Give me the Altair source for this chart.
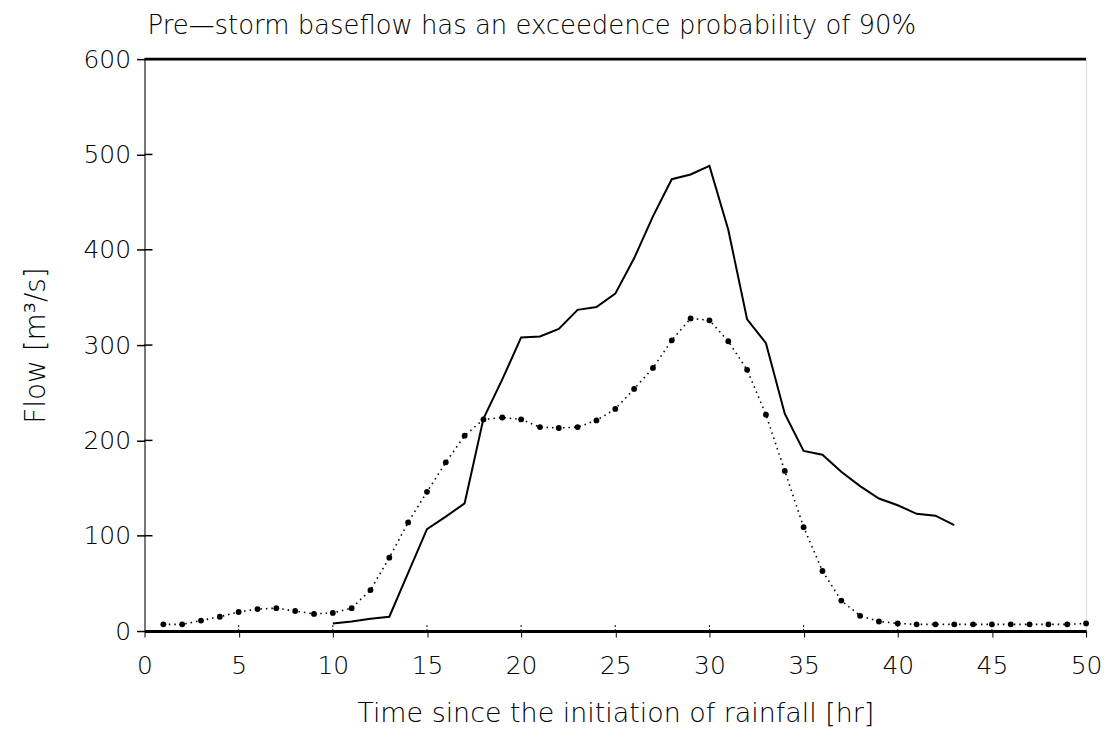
import altair as alt
import pandas as pd

# Solid line: hourly flow (t = 10 .. 43)
solid_t = list(range(10, 44))
solid_v = [8, 10, 13, 15, 61, 107, 120, 134, 223, 264, 308, 309, 317, 337, 340,
           354, 391, 435, 474, 479, 488, 421, 327, 302, 228, 189, 185, 167, 152,
           139, 132, 123, 121, 111]

# Dotted line with dots: hourly flow (t = 1 .. 50)
dot_t = list(range(1, 51))
dot_v = [7, 7, 11, 15, 20, 23, 24, 21, 18, 19,
         24, 43, 77, 114, 146, 177, 205, 222, 224, 222,
         214, 213, 214, 221, 233, 254, 276, 305, 328, 326,
         304, 274, 227, 168, 109, 63, 32, 16, 10, 8,
         7, 7, 7, 7, 7, 7, 7, 7, 7, 8]

x_ticks = [0, 5, 10, 15, 20, 25, 30, 35, 40, 45, 50]
y_ticks = [0, 100, 200, 300, 400, 500, 600]
x_inner = [5, 10, 15, 20, 25, 30, 35, 40, 45]
y_inner = [100, 200, 300, 400, 500]

title_text = "Pre\u2014storm baseflow has an exceedence probability of 90%"
x_title = "Time since the initiation of rainfall [hr]"
y_title = "Flow [m\u00b3/s]"

FONT = "DejaVu Sans"
FW = 200
W, H = 945, 574

solid_df = pd.DataFrame({"t": solid_t, "flow": solid_v})
dot_df = pd.DataFrame({"t": dot_t, "flow": dot_v})
yin_df = pd.DataFrame({"v": y_inner})
xin_df = pd.DataFrame({"v": x_inner})

xs = alt.Scale(domain=[0, 50], nice=False, zero=False)
ys = alt.Scale(domain=[0, 600], nice=False)

x_axis = alt.Axis(values=x_ticks, title=x_title, grid=False, tickSize=6,
                  tickColor="black", tickWidth=1, domainColor="black",
                  domainWidth=3, labelFontSize=25, labelPadding=17,
                  labelColor="black", titleFontSize=27, titlePadding=22,
                  titleColor="black", titleFontWeight=FW, labelFontWeight=FW,
                  labelFont=FONT, titleFont=FONT, labelFlush=False)
y_axis = alt.Axis(values=y_ticks, title=y_title, grid=False, tickSize=8,
                  tickColor="black", tickWidth=1.5, domainColor="black",
                  domainWidth=1, labelFontSize=25, labelPadding=6,
                  labelColor="black", titleFontSize=28, titlePadding=33,
                  titleColor="black", titleFontWeight=FW, labelFontWeight=FW,
                  labelFont=FONT, titleFont=FONT, labelFlush=False)

solid = alt.Chart(solid_df).mark_line(color="black", strokeWidth=2).encode(
    x=alt.X("t:Q", scale=xs, axis=x_axis),
    y=alt.Y("flow:Q", scale=ys, axis=y_axis),
)

dotted = alt.Chart(dot_df).mark_line(color="black", strokeWidth=1.6,
                                     strokeDash=[1.5, 4]).encode(
    x=alt.X("t:Q", scale=xs),
    y=alt.Y("flow:Q", scale=ys),
)

dots = alt.Chart(dot_df).mark_circle(color="black", size=34, opacity=1).encode(
    x=alt.X("t:Q", scale=xs),
    y=alt.Y("flow:Q", scale=ys),
)

top_rule = alt.Chart(pd.DataFrame({"v": [600]})).mark_rule(
    color="black", strokeWidth=3).encode(y=alt.Y("v:Q", scale=ys))

y_in = alt.Chart(yin_df).mark_rule(color="black", strokeWidth=1.5).encode(
    y=alt.Y("v:Q", scale=ys), x=alt.value(0), x2=alt.value(8))

x_in = alt.Chart(xin_df).mark_rule(color="black", strokeWidth=1,
                                   strokeDash=[2, 2]).encode(
    x=alt.X("v:Q", scale=xs), y=alt.value(H), y2=alt.value(H - 6))

chart = alt.layer(y_in, x_in, dotted, dots, solid, top_rule).properties(
    width=W,
    height=H,
    title=alt.TitleParams(title_text, anchor="start", frame="group",
                          fontSize=26, font=FONT, fontWeight=FW,
                          color="black", offset=8, dx=3),
    autosize=alt.AutoSizeParams(type="none"),
    padding={"left": 137, "top": 50, "right": 20, "bottom": 95},
).configure_view(stroke="black", strokeWidth=1.2).configure(background="white")

chart.save("out.html", embed_options={"renderer": "svg", "actions": False})
